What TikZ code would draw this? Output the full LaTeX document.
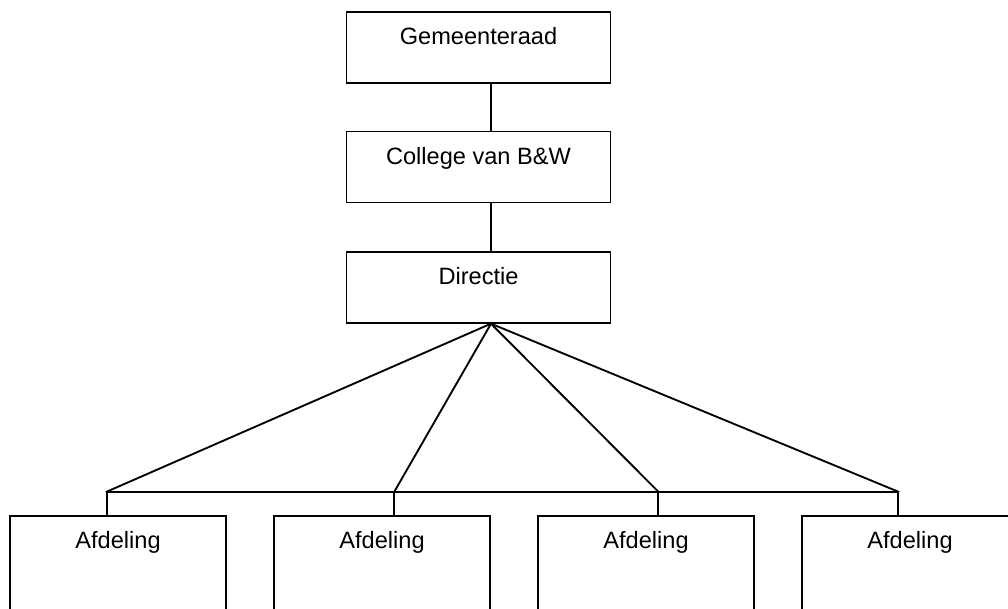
\documentclass[tikz,border=0pt]{standalone}
\usepackage{fontspec}
\setmainfont{Liberation Sans}
\usetikzlibrary{calc}
\tikzset{
  orgbox/.style={draw, line width=1.4pt, minimum width=198pt, minimum height=53.3pt, inner sep=0pt},
  unitbox/.style={draw, line width=1.4pt, minimum width=162pt, minimum height=90pt, inner sep=0pt},
  lbl/.style={anchor=base, inner sep=0pt, font=\fontsize{17.7pt}{20pt}\selectfont},
  link/.style={line width=1.4pt, line cap=rect}
}
\begin{document}
\begin{tikzpicture}[x=0.75pt, y=-0.75pt]
  \clip (0,0) rectangle (1008,608);
  % management chain
  \node[orgbox] (gem) at (478.5,47.3) {};
  \node[orgbox] (col) at (478.5,167) {};
  \node[orgbox] (dir) at (478.5,287.2) {};
  \node[lbl] (gemT) at (478.5,44.3) {Gemeenteraad};
  \node[lbl] (colT) at (478.5,164.3) {College van B\&W};
  \node[lbl] (dirT) at (478.5,284.3) {Directie};
  % departments (run off the lower edge)
  \node[unitbox] (af1) at (118,576) {};
  \node[unitbox] (af2) at (382,576) {};
  \node[unitbox] (af3) at (646,576) {};
  \node[unitbox] (af4) at (910,576) {};
  \node[lbl] (af1T) at (118,548.3) {Afdeling};
  \node[lbl] (af2T) at (382,548.3) {Afdeling};
  \node[lbl] (af3T) at (646,548.3) {Afdeling};
  \node[lbl] (af4T) at (910,548.3) {Afdeling};
  % connection points
  \coordinate (apex) at ($(dir.south)+(12.5,0)$);
  \coordinate (j1) at (106.7,491.7);
  \coordinate (j2) at (394.3,491.7);
  \coordinate (j3) at (658.3,491.7);
  \coordinate (j4) at (898.3,491.7);
  % connectors
  \draw[link] ($(gem.south)+(12.5,0)$) -- ($(col.north)+(12.5,0)$);
  \draw[link] ($(col.south)+(12.5,0)$) -- ($(dir.north)+(12.5,0)$);
  \draw[link] (apex) -- (j1);
  \draw[link] (apex) -- (j2);
  \draw[link] (apex) -- (j3);
  \draw[link] (apex) -- (j4);
  \draw[link] (j1) -- (j4);
  \draw[link] (j1) -- (j1 |- af1.north);
  \draw[link] (j2) -- (j2 |- af2.north);
  \draw[link] (j3) -- (j3 |- af3.north);
  \draw[link] (j4) -- (j4 |- af4.north);
\end{tikzpicture}
\end{document}
